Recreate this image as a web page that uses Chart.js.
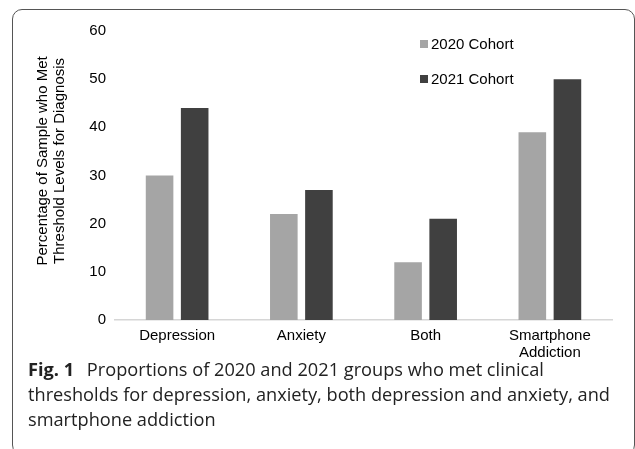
<!DOCTYPE html>
<html>
<head>
<meta charset="utf-8">
<script src="https://cdn.jsdelivr.net/npm/chart.js@4/dist/chart.umd.min.js"></script>
<style>
  html, body { margin: 0; padding: 0; background: #fff; }
  #wrap { position: relative; width: 635px; height: 449px; overflow: hidden; }
  #frame { position: absolute; left: 12px; top: 9px; width: 623px; height: 446px;
           border: 1.5px solid #555; border-radius: 10px; box-sizing: border-box; }
  #cv { position: absolute; left: 0; top: 0; }
  .leg { position: absolute; font-family: "Liberation Sans", Arial, sans-serif; font-size: 15px;
         color: #000; line-height: 18px; white-space: nowrap; }
  .leg i { display: inline-block; width: 8px; height: 8px; margin-right: 3px; vertical-align: 1px; }
  #cap { position: absolute; left: 28px; top: 357px; width: 604px; font-family: "Open Sans", sans-serif;
         font-size: 18.2px; line-height: 25px; color: #222; }
  #cap b { font-weight: 700; margin-right: 8px; }
</style>
</head>
<body>
<div id="wrap">
  <div id="frame"></div>
  <canvas id="cv" width="635" height="360"></canvas>
  <div class="leg" style="left:420px; top:35px;"><i style="background:#a5a5a5"></i><span id="l0"></span></div>
  <div class="leg" style="left:420px; top:70px;"><i style="background:#404040"></i><span id="l1"></span></div>
  <div id="cap"><b>Fig. 1</b> Proportions of 2020 and 2021 groups who met clinical thresholds for depression, anxiety, both depression and anxiety, and smartphone addiction</div>
</div>
<script>
const categories = ["Depression", "Anxiety", "Both", ["Smartphone", "Addiction"]];
const seriesNames = ["2020 Cohort", "2021 Cohort"];
const cohort2020 = [30, 22, 12, 39];
const cohort2021 = [44, 27, 21, 50];
const yTicks = [0, 10, 20, 30, 40, 50, 60];
const yTitle = ["Percentage of Sample who Met", "Threshold Levels for Diagnosis"];

document.getElementById('l0').textContent = seriesNames[0];
document.getElementById('l1').textContent = seriesNames[1];

// leading spaces nudge the rotated title upward, as in the reference
const pad = '\u00a0'.repeat(7);
const fontFam = '"Liberation Sans", Arial, sans-serif';
new Chart(document.getElementById('cv'), {
  type: 'bar',
  data: {
    labels: categories,
    datasets: [
      { label: seriesNames[0], data: cohort2020, backgroundColor: '#a5a5a5' },
      { label: seriesNames[1], data: cohort2021, backgroundColor: '#404040' }
    ]
  },
  options: {
    responsive: false,
    animation: false,
    events: [],
    layout: { padding: { left: 26, right: 23, top: 31, bottom: 0 } },
    datasets: { bar: { categoryPercentage: 0.565, barPercentage: 0.786 } },
    plugins: { legend: { display: false }, tooltip: { enabled: false } },
    scales: {
      x: {
        grid: { display: false, drawTicks: false },
        border: { display: true, color: '#d6d6d6', width: 1.5 },
        ticks: { padding: 8, color: '#000', maxRotation: 0, autoSkip: false,
                 font: { family: fontFam, size: 15, lineHeight: 1.1 } },
        afterFit: s => { s.height = 40; }
      },
      y: {
        min: 0, max: 60,
        afterBuildTicks: s => { s.ticks = yTicks.map(v => ({ value: v })); },
        grid: { display: false, drawTicks: false },
        border: { display: false },
        ticks: { padding: 9, color: '#000', font: { family: fontFam, size: 15 } },
        title: { display: true, text: yTitle.map(t => pad + t), color: '#000', padding: { top: 9, bottom: 0 },
                 font: { family: fontFam, size: 15, lineHeight: 1.1 } },
        afterFit: s => { s.width = 89; }
      }
    }
  }
});
</script>
</body>
</html>
